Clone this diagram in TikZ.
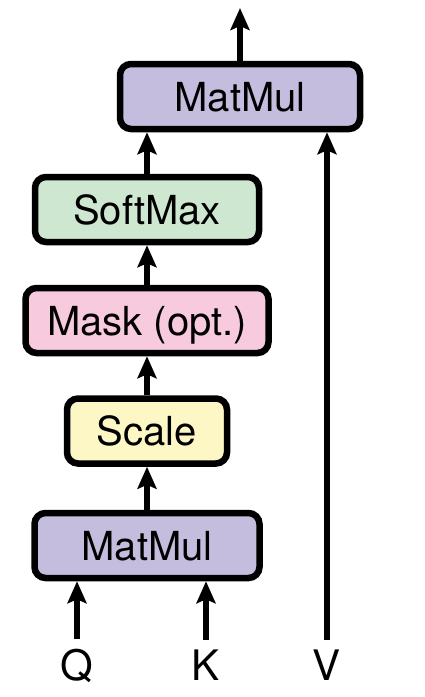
\documentclass[tikz,border=0pt]{standalone}
\usepackage{fontspec}
\setmainfont{TeX Gyre Heros}
\usetikzlibrary{arrows.meta}
\definecolor{mmcol}{RGB}{197,189,222}
\definecolor{smcol}{RGB}{206,231,208}
\definecolor{mkcol}{RGB}{247,202,221}
\definecolor{sccol}{RGB}{252,247,196}
\begin{document}
\begin{tikzpicture}[x=1pt,y=-1pt,
  box/.style={draw=black, line width=6.5pt, rounded corners=11pt, inner sep=0pt,
    minimum height=65pt, font=\fontsize{40}{44}\selectfont, text height=29pt, text depth=0pt},
  arr/.style={line width=5.5pt, -{Stealth[length=22pt,width=19pt,inset=4pt]}},
  lbl/.style={font=\fontsize{42}{46}\selectfont, inner xsep=0pt, inner ysep=9pt, anchor=base}]
\useasboundingbox (0,0) rectangle (425,697);
\node[box, fill=mmcol, minimum width=240pt] (mm2) at (240,96.5) {MatMul};
\node[box, fill=smcol, minimum width=224pt] (sm) at (147,209.5) {SoftMax};
\node[box, fill=mkcol, minimum width=243pt] (mk) at (147,320.5) {Mask (opt.)};
\node[box, fill=sccol, minimum width=160pt] (sc) at (147,431) {Scale};
\node[box, fill=mmcol, minimum width=225pt] (mm1) at (147,545.5) {MatMul};
\node[lbl] (Q) at (77,680) {Q};
\node[lbl] (K) at (206,680) {K};
\node[lbl] (V) at (327,680) {V};
\coordinate (out) at (240,8);
\draw[arr] (Q.north) -- (mm1.south -| Q.north);
\draw[arr] (K.north) -- (mm1.south -| K.north);
\draw[arr] (V.north) -- (mm2.south -| V.north);
\draw[arr] (mm1) -- (sc);
\draw[arr] (sc) -- (mk);
\draw[arr] (mk) -- (sm);
\draw[arr] (sm.north) -- (mm2.south -| sm.north);
\draw[arr] (mm2.north) -- (out);
\end{tikzpicture}
\end{document}
